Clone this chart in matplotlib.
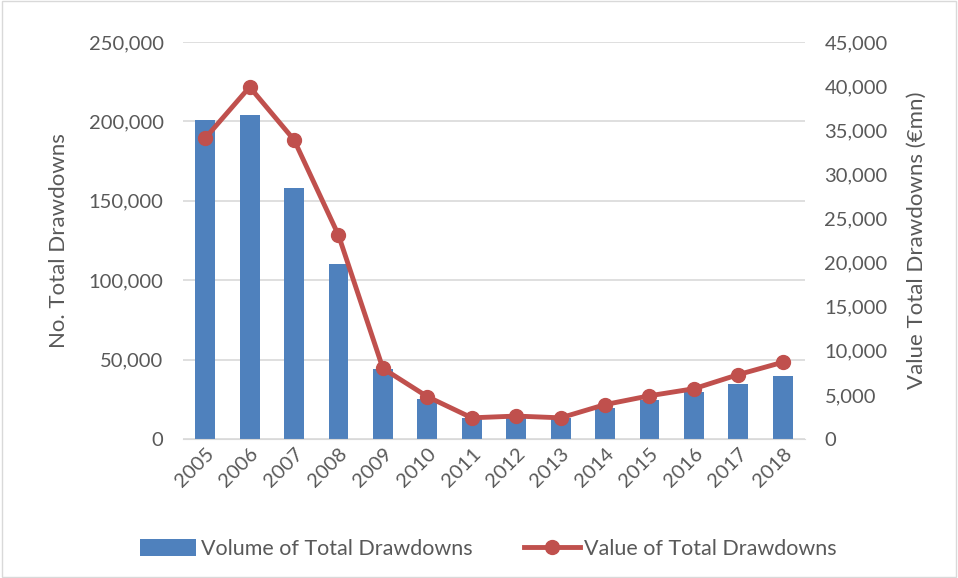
import numpy as np
import matplotlib.pyplot as plt
from matplotlib.ticker import FuncFormatter

years = [str(y) for y in range(2005, 2019)]
volume = [201000, 204000, 158000, 110000, 44000, 25000, 13000, 13000, 13000, 19500, 24500, 29600, 34600, 39700]
value = [34100, 39900, 33900, 23100, 8000, 4800, 2400, 2600, 2400, 3900, 4900, 5700, 7300, 8700]

blue = "#4F81BD"
red = "#C0504D"
txt = "#595959"
plt.rcParams["font.family"] = ["Lato", "DejaVu Sans"]

fig = plt.figure(figsize=(9.58, 5.78), dpi=100)
ax = fig.add_axes([183/958, 1-439/578, (805-183)/958, (439-42)/578])
x = np.arange(len(years))
b = ax.bar(x, volume, width=0.45, color=blue, label="Volume of Total Drawdowns", zorder=2)
ax.set_ylim(0, 250000)
ax.set_yticks(range(0, 250001, 50000))
ax.set_xlim(-0.5, len(years) - 0.5)
ax.yaxis.set_major_formatter(FuncFormatter(lambda v, p: f"{int(v):,}"))
ax.grid(axis="y", color="#D9D9D9", lw=1.2, zorder=0)
ax.set_axisbelow(True)
ax.set_xticks(x)
ax.set_xticklabels(years, rotation=45, ha="right", rotation_mode="anchor")
ax.set_ylabel("No. Total Drawdowns", fontsize=16, color=txt, labelpad=14)

ax2 = ax.twinx()
l, = ax2.plot(x, value, color=red, lw=3.5, marker="o", ms=10, label="Value of Total Drawdowns")
ax2.set_ylim(0, 45000)
ax2.set_yticks(range(0, 45001, 5000))
ax2.yaxis.set_major_formatter(FuncFormatter(lambda v, p: f"{int(v):,}"))
ax2.set_ylabel("Value Total Drawdowns (€mn)", fontsize=16, color=txt, labelpad=14)

for a in (ax, ax2):
    for s in a.spines.values():
        s.set_visible(False)
    a.tick_params(length=0, labelsize=14.5, colors=txt)
ax.spines["bottom"].set_visible(True)
ax.spines["bottom"].set_color("#D9D9D9")
ax.tick_params(axis="y", pad=14)
ax2.tick_params(axis="y", pad=14)
ax.tick_params(axis="x", pad=4)

fig.legend([b, l], ["Volume of Total Drawdowns", "Value of Total Drawdowns"],
           loc="center", bbox_to_anchor=(0.51, 1-549/578), ncol=2, frameon=False,
           fontsize=15.5, labelcolor=txt, handlelength=2.6, handleheight=0.8,
           columnspacing=2.4, handletextpad=0.2)

fig.patches.append(plt.Rectangle((0.002, 0.002), 0.996, 0.996, transform=fig.transFigure,
                                 fill=False, edgecolor="#D9D9D9", lw=1))
fig.savefig("out.png", dpi=100)
